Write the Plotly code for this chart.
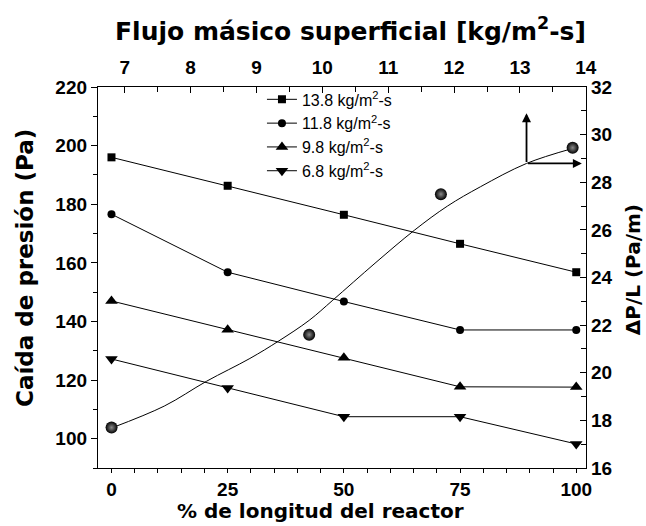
import plotly.graph_objects as go

# ---- data (bottom/left axes) ----
pos = [0, 25, 50, 75, 100]  # % de longitud del reactor
dp_138 = [196.0, 186.3, 176.4, 166.5, 156.8]
dp_118 = [176.6, 156.8, 146.8, 137.1, 137.1]
dp_98 = [147.0, 137.2, 127.6, 117.7, 117.6]
dp_68 = [127.2, 117.3, 107.5, 107.5, 98.2]
names = ["13.8 kg/m<sup>2</sup>-s", "11.8 kg/m<sup>2</sup>-s",
         "9.8 kg/m<sup>2</sup>-s", "6.8 kg/m<sup>2</sup>-s"]

# ---- data (top/right axes) ----
flux = [6.8, 9.8, 11.8, 13.8]
dpl = [17.7, 21.6, 27.5, 29.45]
fit_flux = [6.8, 7.6, 8.24, 8.9, 9.33, 9.8, 10.16, 10.8, 11.40, 11.9, 12.40, 13.10, 13.8]
fit_dpl = [17.68, 18.6, 19.64, 20.6, 21.32, 22.2, 23.05, 24.6, 25.99, 27.0, 27.81, 28.79, 29.42]

titles = {"bottom": "% de longitud del reactor",
          "left": "Caída de presión (Pa)",
          "top": "Flujo másico superficial [kg/m<sup>2</sup>-s]",
          "right": "ΔP/L (Pa/m)"}

FONT = "Liberation Sans, Arial, sans-serif"
TFONT = "DejaVu Sans, Liberation Sans, sans-serif"
fig = go.Figure()

styles = [("square", 8), ("circle", 8), ("triangle-up", 11), ("triangle-down", 11)]
for i, (vals, nm) in enumerate(zip([dp_138, dp_118, dp_98, dp_68], names)):
    sym, sz = styles[i]
    fig.add_trace(go.Scatter(
        x=pos, y=vals, name=nm, mode="lines+markers",
        line=dict(color="black", width=1),
        marker=dict(symbol=sym, size=sz, color="black"),
        xaxis="x", yaxis="y"))

fig.add_trace(go.Scatter(
    x=fit_flux, y=fit_dpl, mode="lines", line=dict(color="black", width=1, shape="spline"),
    showlegend=False, xaxis="x2", yaxis="y2"))
fig.add_trace(go.Scatter(
    x=flux, y=dpl, mode="markers", showlegend=False,
    marker=dict(symbol="circle", size=12, color="black",
                gradient=dict(type="radial", color="#8a8a8a"),
                line=dict(width=0)),
    xaxis="x2", yaxis="y2"))

tickfont = dict(family=FONT, size=19, color="black", weight="bold")

def tf(size):
    return dict(family=TFONT, size=size, color="black", weight="bold")

common = dict(showline=True, linecolor="black", linewidth=1.3, showgrid=False,
              zeroline=False, tickcolor="black", tickwidth=1.2, tickfont=tickfont,
              automargin=False)

fig.update_layout(
    width=646, height=526,
    margin=dict(l=98, r=60, t=87, b=58, autoexpand=False),
    paper_bgcolor="white", plot_bgcolor="white",
    font=dict(family=FONT, color="black"),
    xaxis=dict(range=[-2.9, 102.1], tickvals=pos, ticks="outside", ticklen=4,
               minor=dict(dtick=5, tick0=0, ticks="outside", ticklen=4, tickcolor="black"),
               **common),
    yaxis=dict(range=[90, 220], tick0=100, dtick=20, ticks="outside", ticklen=6,
               minor=dict(dtick=10, tick0=100, ticks="outside", ticklen=4, tickcolor="black"),
               **common),
    xaxis2=dict(range=[6.594, 14.003], overlaying="x", side="top", anchor="y",
                tick0=7, dtick=1, ticks="inside", ticklen=6, ticklabelstandoff=4,
                minor=dict(dtick=0.5, ticks="inside", ticklen=5, tickcolor="black"),
                **common),
    yaxis2=dict(range=[16, 32], overlaying="y", side="right", anchor="x",
                tick0=16, dtick=2, ticks="inside", ticklen=6,
                minor=dict(dtick=1, ticks="inside", ticklen=5, tickcolor="black"),
                **common),
    legend=dict(x=0.336, y=1.012, xanchor="left", yanchor="top",
                bgcolor="rgba(0,0,0,0)", borderwidth=0,
                font=dict(family=FONT, size=16, color="black")),
)

# axis titles
fig.add_annotation(text=titles["top"], xref="paper", yref="paper", x=0.518, y=1.15,
                   xanchor="center", yanchor="middle", showarrow=False, font=tf(25))
fig.add_annotation(text=titles["bottom"], xref="paper", yref="paper", x=0.455, y=-0.112,
                   xanchor="center", yanchor="middle", showarrow=False, font=tf(20))
fig.add_annotation(text=titles["left"], xref="paper", yref="paper", x=-0.1496, y=0.525,
                   xanchor="center", yanchor="middle", showarrow=False, font=tf(23),
                   textangle=-90)
fig.add_annotation(text=titles["right"], xref="paper", yref="paper", x=1.097, y=0.52,
                   xanchor="center", yanchor="middle", showarrow=False, font=tf(20),
                   textangle=-90)

# arrows indicating axes of the sphere series
fig.add_annotation(x=13.1, y=30.9, ax=13.1, ay=28.79, xref="x2", yref="y2",
                   axref="x2", ayref="y2", showarrow=True, arrowhead=2,
                   arrowsize=1, arrowwidth=1.8, arrowcolor="black", text="")
fig.add_annotation(x=13.94, y=28.79, ax=13.1, ay=28.79, xref="x2", yref="y2",
                   axref="x2", ayref="y2", showarrow=True, arrowhead=2,
                   arrowsize=1, arrowwidth=1.8, arrowcolor="black", text="")

fig.write_html("out.html")
